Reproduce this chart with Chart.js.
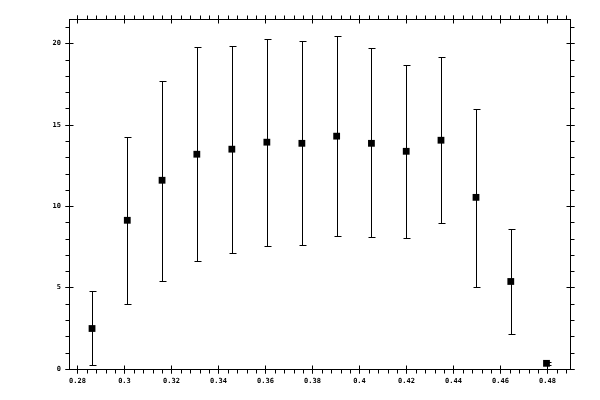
<!DOCTYPE html>
<html>
<head>
<meta charset="utf-8">
<script src="https://cdn.jsdelivr.net/npm/chart.js@4/dist/chart.umd.min.js"></script>
<style>
  html, body { margin: 0; padding: 0; background: #fff; }
  #wrap { width: 600px; height: 400px; }
</style>
</head>
<body>
<div id="wrap"><canvas id="errChart" width="600" height="400"></canvas></div>
<script>
// values
const xVals  = [0.2862, 0.3012, 0.3160, 0.3308, 0.3457, 0.3606, 0.3755, 0.3903, 0.4051, 0.4199, 0.4347, 0.4496, 0.4644, 0.4796];
const yVals  = [2.48, 9.13, 11.59, 13.19, 13.50, 13.93, 13.86, 14.30, 13.86, 13.37, 14.05, 10.54, 5.37, 0.34];
const yHigh  = [4.76, 14.25, 17.72, 19.75, 19.83, 20.26, 20.14, 20.47, 19.69, 18.66, 19.16, 15.99, 8.57, 0.45];
const yLow   = [0.26, 3.96, 5.43, 6.60, 7.10, 7.53, 7.61, 8.16, 8.08, 8.02, 8.94, 5.06, 2.17, 0.25];

const xTicks = [0.28, 0.30, 0.32, 0.34, 0.36, 0.38, 0.40, 0.42, 0.44, 0.46, 0.48];
const yTicks = [0, 5, 10, 15, 20];
const xMinorStep = 0.004;
const yMinorStep = 1;

const X_MIN = 0.2764, X_MAX = 0.4896;
const Y_MIN = -0.07, Y_MAX = 21.5;

function minorValues(min, max, step) {
  const out = [];
  for (let v = Math.ceil(min / step) * step; v <= max + 1e-9; v += step) out.push(v);
  return out;
}

// error bars under the markers, frame + ticks on top
const framePlugin = {
  id: 'framePlugin',
  beforeDatasetsDraw(chart) {
    const ctx = chart.ctx, xs = chart.scales.x, ys = chart.scales.y;
    ctx.save();
    ctx.strokeStyle = '#000';
    ctx.lineWidth = 1;
    ctx.beginPath();
    for (let i = 0; i < xVals.length; i++) {
      const px = Math.round(xs.getPixelForValue(xVals[i])) + 0.5;
      const yl = Math.round(ys.getPixelForValue(yLow[i])) + 0.5;
      const yh = Math.round(ys.getPixelForValue(yHigh[i])) + 0.5;
      ctx.moveTo(px, yl); ctx.lineTo(px, yh);
      ctx.moveTo(px - 3, yl); ctx.lineTo(px + 4, yl);
      ctx.moveTo(px - 3, yh); ctx.lineTo(px + 4, yh);
    }
    ctx.stroke();
    ctx.restore();
  },
  afterDraw(chart) {
    const ctx = chart.ctx, a = chart.chartArea;
    const xs = chart.scales.x, ys = chart.scales.y;
    const L = Math.round(a.left) + 0.5, R = Math.round(a.right) + 0.5;
    const T = Math.round(a.top) + 0.5, B = Math.round(a.bottom) - 0.5;
    ctx.save();
    ctx.strokeStyle = '#000';
    ctx.lineWidth = 1;
    ctx.strokeRect(L, T, R - L, B - T);
    ctx.beginPath();
    // x: minor outward, major crossing
    minorValues(X_MIN, X_MAX, xMinorStep).forEach(v => {
      const p = Math.round(xs.getPixelForValue(v)) + 0.5;
      ctx.moveTo(p, B); ctx.lineTo(p, B + 4);
      ctx.moveTo(p, T); ctx.lineTo(p, T - 4);
    });
    xTicks.forEach(v => {
      const p = Math.round(xs.getPixelForValue(v)) + 0.5;
      ctx.moveTo(p, B - 4); ctx.lineTo(p, B + 4);
      ctx.moveTo(p, T + 4); ctx.lineTo(p, T - 4);
    });
    // y
    minorValues(Y_MIN, Y_MAX, yMinorStep).forEach(v => {
      const p = Math.round(ys.getPixelForValue(v)) + 0.5;
      ctx.moveTo(L, p); ctx.lineTo(L - 4, p);
      ctx.moveTo(R, p); ctx.lineTo(R + 4, p);
    });
    yTicks.forEach(v => {
      const p = Math.round(ys.getPixelForValue(v)) + 0.5;
      ctx.moveTo(L - 4, p); ctx.lineTo(L + 4, p);
      ctx.moveTo(R + 4, p); ctx.lineTo(R - 4, p);
    });
    ctx.stroke();
    ctx.restore();
  }
};

const tickFont = { family: 'DejaVu Sans Mono', size: 7, weight: 'bold' };

new Chart(document.getElementById('errChart'), {
  type: 'scatter',
  data: {
    datasets: [{
      data: xVals.map((x, i) => ({ x: x, y: yVals[i] })),
      pointStyle: 'rect',
      pointRadius: 4.8,
      pointHoverRadius: 4.8,
      backgroundColor: '#000',
      borderWidth: 0
    }]
  },
  options: {
    responsive: false,
    animation: false,
    devicePixelRatio: 1,
    layout: { padding: { top: 19, right: 30, left: 0, bottom: 0 } },
    plugins: { legend: { display: false }, tooltip: { enabled: false } },
    scales: {
      x: {
        type: 'linear',
        min: X_MIN, max: X_MAX,
        grid: { display: false, drawTicks: false },
        border: { display: false },
        afterBuildTicks: s => { s.ticks = xTicks.map(v => ({ value: v })); },
        afterFit: s => { s.height = 30; },
        ticks: {
          padding: 7,
          maxRotation: 0,
          autoSkip: false,
          color: '#000',
          font: tickFont,
          callback: v => String(+v.toFixed(2))
        }
      },
      y: {
        type: 'linear',
        min: Y_MIN, max: Y_MAX,
        grid: { display: false, drawTicks: false },
        border: { display: false },
        afterBuildTicks: s => { s.ticks = yTicks.map(v => ({ value: v })); },
        afterFit: s => { s.width = 69; },
        ticks: {
          padding: 8,
          autoSkip: false,
          color: '#000',
          font: tickFont,
          callback: v => String(v)
        }
      }
    }
  },
  plugins: [framePlugin]
});
</script>
</body>
</html>
